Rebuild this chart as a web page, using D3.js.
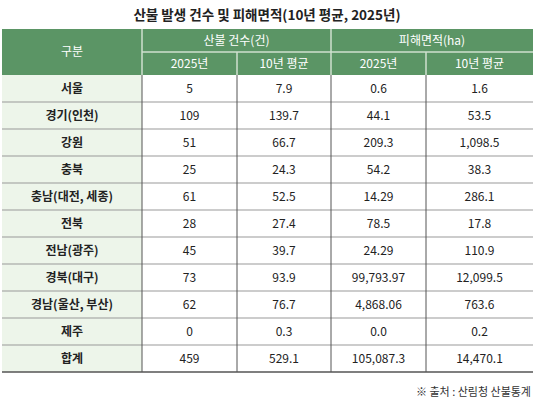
<!DOCTYPE html>
<html><head><meta charset="utf-8">
<script src="https://cdn.jsdelivr.net/npm/d3@7"></script>
<style>body{margin:0;background:#fff}text{font-family:"Noto Sans CJK KR","Noto Sans",sans-serif}</style>
</head><body>
<svg id="chart" width="534" height="405"></svg>
<script>
// table data
var regions = ["서울", "경기(인천)", "강원", "충북", "충남(대전, 세종)", "전북", "전남(광주)", "경북(대구)", "경남(울산, 부산)", "제주", "합계"];
var count2025 = ["5", "109", "51", "25", "61", "28", "45", "73", "62", "0", "459"];
var countAvg = ["7.9", "139.7", "66.7", "24.3", "52.5", "27.4", "39.7", "93.9", "76.7", "0.3", "529.1"];
var area2025 = ["0.6", "44.1", "209.3", "54.2", "14.29", "78.5", "24.29", "99,793.97", "4,868.06", "0.0", "105,087.3"];
var areaAvg = ["1.6", "53.5", "1,098.5", "38.3", "286.1", "17.8", "110.9", "12,099.5", "763.6", "0.2", "14,470.1"];

var svg = d3.select("#chart");
var colX = [2, 142, 237, 331, 426, 533];
var top0 = 29, headH = 23, rowH = 27;
var y = d3.scaleBand().domain(d3.range(regions.length)).range([75, 75 + rowH * regions.length]);
var green = "#5b9565";

svg.append("text").attr("x", 267).attr("y", 20).attr("text-anchor", "middle")
  .attr("font-size", 13.5).attr("font-weight", "bold").attr("fill", "#222")
  .text("산불 발생 건수 및 피해면적(10년 평균, 2025년)");

// header
svg.append("rect").attr("x", 2).attr("y", top0).attr("width", 531).attr("height", headH * 2).attr("fill", green);
var hl = svg.append("g").attr("stroke", "#cfe0cf").attr("stroke-width", 1.5);
hl.append("line").attr("x1", colX[1]).attr("x2", colX[1]).attr("y1", top0).attr("y2", 75);
hl.append("line").attr("x1", colX[3]).attr("x2", colX[3]).attr("y1", top0).attr("y2", 75);
hl.append("line").attr("x1", colX[2]).attr("x2", colX[2]).attr("y1", top0 + headH).attr("y2", 75);
hl.append("line").attr("x1", colX[4]).attr("x2", colX[4]).attr("y1", top0 + headH).attr("y2", 75);
hl.append("line").attr("x1", colX[1]).attr("x2", 533).attr("y1", top0 + headH).attr("y2", top0 + headH);

function htext(x, yy, t) {
  svg.append("text").attr("x", x).attr("y", yy).attr("text-anchor", "middle").attr("dy", "0.35em")
    .attr("font-size", 12).attr("fill", "#fff").text(t);
}
htext((colX[0] + colX[1]) / 2, 52, "구분");
htext((colX[1] + colX[3]) / 2, 41, "산불 건수(건)");
htext((colX[3] + colX[5]) / 2, 41, "피해면적(ha)");
var sub = ["2025년", "10년 평균", "2025년", "10년 평균"];
sub.forEach(function (s, i) { htext((colX[i + 1] + colX[i + 2]) / 2, 64, s); });

// body
svg.append("rect").attr("x", 2).attr("y", 75).attr("width", colX[1] - 2).attr("height", rowH * regions.length).attr("fill", "#edf5ea");
var cols = [regions, count2025, countAvg, area2025, areaAvg];
regions.forEach(function (r, i) {
  cols.forEach(function (c, j) {
    svg.append("text").attr("x", (colX[j] + colX[j + 1]) / 2).attr("y", y(i) + rowH / 2)
      .attr("dy", "0.35em").attr("text-anchor", "middle").attr("font-size", 12)
      .attr("fill", "#222").attr("font-weight", j === 0 ? "bold" : "normal").text(c[i]);
  });
  if (i > 0) svg.append("line").attr("x1", 2).attr("x2", 533).attr("y1", y(i)).attr("y2", y(i))
    .attr("stroke", "#999").attr("stroke-width", 1);
});
[1, 2, 3, 4].forEach(function (k) {
  svg.append("line").attr("x1", colX[k]).attr("x2", colX[k]).attr("y1", 75).attr("y2", y.range()[1])
    .attr("stroke", "#555").attr("stroke-width", 1);
});
svg.append("line").attr("x1", 2).attr("x2", 533).attr("y1", y.range()[1]).attr("y2", y.range()[1])
  .attr("stroke", "#555").attr("stroke-width", 1.5);

svg.append("text").attr("x", 531).attr("y", 396).attr("text-anchor", "end").attr("font-size", 11)
  .attr("fill", "#333").text("※ 출처 : 산림청 산불통계");
</script>
</body></html>
